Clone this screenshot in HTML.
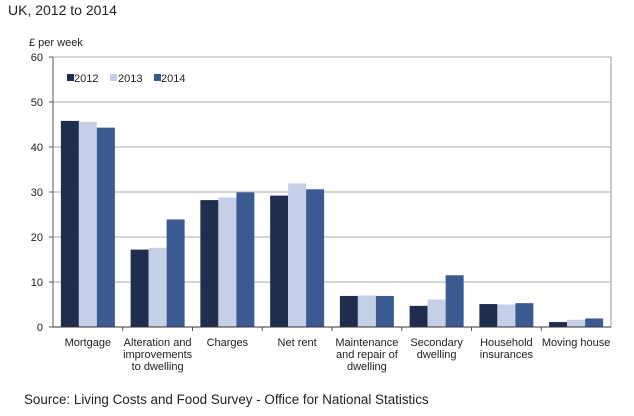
<!DOCTYPE html>
<html><head><meta charset="utf-8"><style>
body{margin:0;background:#fff;font-family:"Liberation Sans",sans-serif;}
svg text{font-family:"Liberation Sans",sans-serif;}
</style></head><body>
<svg width="634" height="411">
<text x="8" y="15" font-size="14" fill="#222">UK, 2012 to 2014</text>
<text x="29" y="46" font-size="11" fill="#222">£ per week</text>
<g id="grid"></g><g id="bars"></g><g id="labels"></g>
<line x1="53" y1="57" x2="53" y2="327" stroke="#555"/>
<line x1="611" y1="57" x2="611" y2="327" stroke="#999"/>
<line x1="53" y1="327" x2="611" y2="327" stroke="#333"/>
<g>
<rect x="67" y="74" width="7" height="7" fill="#1f2d4e"/><text x="74" y="82" font-size="11" fill="#222">2012</text>
<rect x="110" y="74" width="7" height="7" fill="#c5cfe6"/><text x="118" y="82" font-size="11" fill="#222">2013</text>
<rect x="154" y="74" width="7" height="7" fill="#3b5a92"/><text x="161" y="82" font-size="11" fill="#222">2014</text>
</g>
<text x="24" y="404" font-size="13.4" fill="#222">Source: Living Costs and Food Survey - Office for National Statistics</text>
</svg>
<script>
const categories=[["Mortgage"],["Alteration and","improvements","to dwelling"],["Charges"],["Net rent"],["Maintenance","and repair of","dwelling"],["Secondary","dwelling"],["Household","insurances"],["Moving house"]];
const s2012=[45.8,17.2,28.2,29.2,6.9,4.7,5.1,1.1];
const s2013=[45.6,17.6,28.8,31.9,7.0,6.1,5.0,1.6];
const s2014=[44.3,23.9,29.9,30.6,6.9,11.5,5.3,1.9];
const ticks=[0,10,20,30,40,50,60];
const NS="http://www.w3.org/2000/svg";
const x0=53,x1=611,yTop=57,yBot=327,maxV=60;
const y=v=>yBot-(v/maxV)*(yBot-yTop);
const gw=(x1-x0)/categories.length;
const grid=document.getElementById('grid'),bars=document.getElementById('bars'),labels=document.getElementById('labels');
function mk(t,a){const e=document.createElementNS(NS,t);for(const k in a)e.setAttribute(k,a[k]);return e;}
ticks.forEach(t=>{
 if(t>0){const l=mk('line',{x1:x0,x2:x1,y1:y(t),y2:y(t),stroke:'#aaa'});
 
 grid.appendChild(l);}
 const tk=mk('line',{x1:x0-4,x2:x0,y1:y(t),y2:y(t),stroke:'#555'});grid.appendChild(tk);
 const tx=mk('text',{x:x0-10,y:y(t)+4,'font-size':11,'text-anchor':'end',fill:'#222'});tx.textContent=t;
 
 grid.appendChild(tx);
});
const series=[[s2012,'#1f2d4e'],[s2013,'#c5cfe6'],[s2014,'#3b5a92']];
const bw=18;
categories.forEach((c,i)=>{
 const start=x0+i*gw+(gw-3*bw)/2;
 series.forEach(([d,col],j)=>{
  const r=mk('rect',{x:start+j*bw,y:y(d[i]),width:bw,height:yBot-y(d[i]),fill:col});
  
  bars.appendChild(r);
 });
 if(i>0){const tk=mk('line',{x1:x0+i*gw,x2:x0+i*gw,y1:yBot,y2:yBot+4,stroke:'#555'});grid.appendChild(tk);}
 const t=mk('text',{'font-size':11,'text-anchor':'middle',fill:'#222'});
 
 
 c.forEach((ln,k)=>{const ts=mk('tspan',{x:x0+i*gw+gw/2,y:346+k*12});ts.textContent=ln;t.appendChild(ts);});
 labels.appendChild(t);
});
</script>
</body></html>
